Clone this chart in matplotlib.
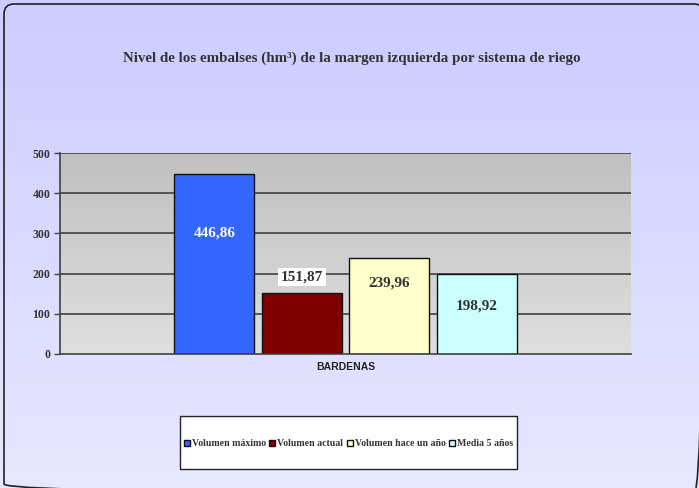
import numpy as np
import matplotlib
matplotlib.use("Agg")
import matplotlib.pyplot as plt
from matplotlib.patches import FancyBboxPatch, Rectangle

# ---- data ----
categories = ["BARDENAS"]
series_names = ["Volumen máximo", "Volumen actual", "Volumen hace un año", "Media 5 años"]
values = [446.86, 151.87, 239.96, 198.92]
value_labels = ["446,86", "151,87", "239,96", "198,92"]
yticks = [0, 100, 200, 300, 400, 500]
title = "Nivel de los embalses (hm³) de la margen izquierda por sistema de riego"

# ---- style ----
colors = ["#3366FF", "#800000", "#FFFFCC", "#CCFFFF"]
label_colors = ["white", "#333333", "#333333", "#333333"]
label_y = [301, 191, 177, 119]
SERIF = "Liberation Serif"
W, H = 699, 488
fig = plt.figure(figsize=(W / 100, H / 100), dpi=100)

# background gradient
bg = fig.add_axes([0, 0, 1, 1])
bg.set_xlim(0, W); bg.set_ylim(H, 0); bg.axis("off")
grad = np.linspace(0, 1, 256).reshape(-1, 1)
c0 = np.array([0xCC, 0xCC, 0xFF]) / 255
c1 = np.array([0xE8, 0xE8, 0xFF]) / 255
img = c0[None, None, :] * (1 - grad[:, :, None]) + c1[None, None, :] * grad[:, :, None]
bg.imshow(img, extent=[0, W, H, 0], aspect="auto", zorder=0)
bg.add_patch(FancyBboxPatch((4, 4), 700, 490, boxstyle="round,pad=0,rounding_size=10",
                            fill=False, edgecolor="#222222", lw=1.2, zorder=1))
bg.text(352, 58, title, ha="center", va="center", fontsize=10.8, fontweight="bold",
        family=SERIF, color="#333333")

# legend box
bg.add_patch(Rectangle((180, 416), 337, 53, facecolor="white", edgecolor="#222222", lw=1, zorder=2))

# plot area
L, T, R, B = 60, 153, 631, 354
ax = fig.add_axes([L / W, (H - B) / H, (R - L) / W, (B - T) / H])
ax.set_xlim(-0.5, 0.5)
ax.set_ylim(0, 500)
pa = np.linspace(0, 1, 256).reshape(-1, 1)
g0 = np.array([0xC0, 0xC0, 0xC0]) / 255
g1 = np.array([0xDF, 0xDF, 0xDF]) / 255
pimg = g0[None, None, :] * (1 - pa[:, :, None]) + g1[None, None, :] * pa[:, :, None]
ax.imshow(pimg, extent=[-0.5, 0.5, 0, 500], aspect="auto", zorder=0)
for y in yticks[1:]:
    ax.axhline(y, color="#404040", lw=1.2, zorder=1)

n = len(values)
step = 0.153
bw = 0.14
offsets = (np.arange(n) - (n - 1) / 2) * step
handles = []
for i in range(n):
    b = ax.bar(offsets[i], values[i], width=bw, color=colors[i], edgecolor="#111111",
               lw=1, zorder=2, label=series_names[i])
    handles.append(b)
    bbox = dict(facecolor="white", edgecolor="none", pad=2) if i == 1 else None
    ax.text(offsets[i], label_y[i], value_labels[i], ha="center", va="center",
            fontsize=11, fontweight="bold", family=SERIF, color=label_colors[i],
            bbox=bbox, zorder=3)

ax.set_yticks(yticks)
ax.set_yticklabels([str(v) for v in yticks])
for t in ax.get_yticklabels():
    t.set_family(SERIF); t.set_fontweight("bold"); t.set_fontsize(8.5); t.set_color("#333333")
ax.tick_params(axis="y", length=4, width=1, color="#404040", pad=3)
ax.set_xticks([0])
ax.set_xticklabels(categories)
for t in ax.get_xticklabels():
    t.set_family("Liberation Sans"); t.set_fontweight("bold"); t.set_fontsize(7.5); t.set_color("#222222")
ax.tick_params(axis="x", length=0, pad=6)
for s in ["top", "right"]:
    ax.spines[s].set_visible(False)
ax.spines["left"].set_color("#404040")
ax.spines["left"].set_linewidth(1.2)
ax.spines["bottom"].set_color("#404040")
ax.spines["bottom"].set_linewidth(1.2)

leg = fig.legend(handles=handles, labels=series_names, loc="center",
                 bbox_to_anchor=(348.5 / W, 1 - 444 / H), ncol=4, frameon=False,
                 handlelength=0.6, handleheight=0.6, handletextpad=0.2, columnspacing=0.35,
                 prop=dict(family=SERIF, weight="bold", size=7.1))
for t in leg.get_texts():
    t.set_color("#333333")

fig.savefig("out.png", dpi=100)
